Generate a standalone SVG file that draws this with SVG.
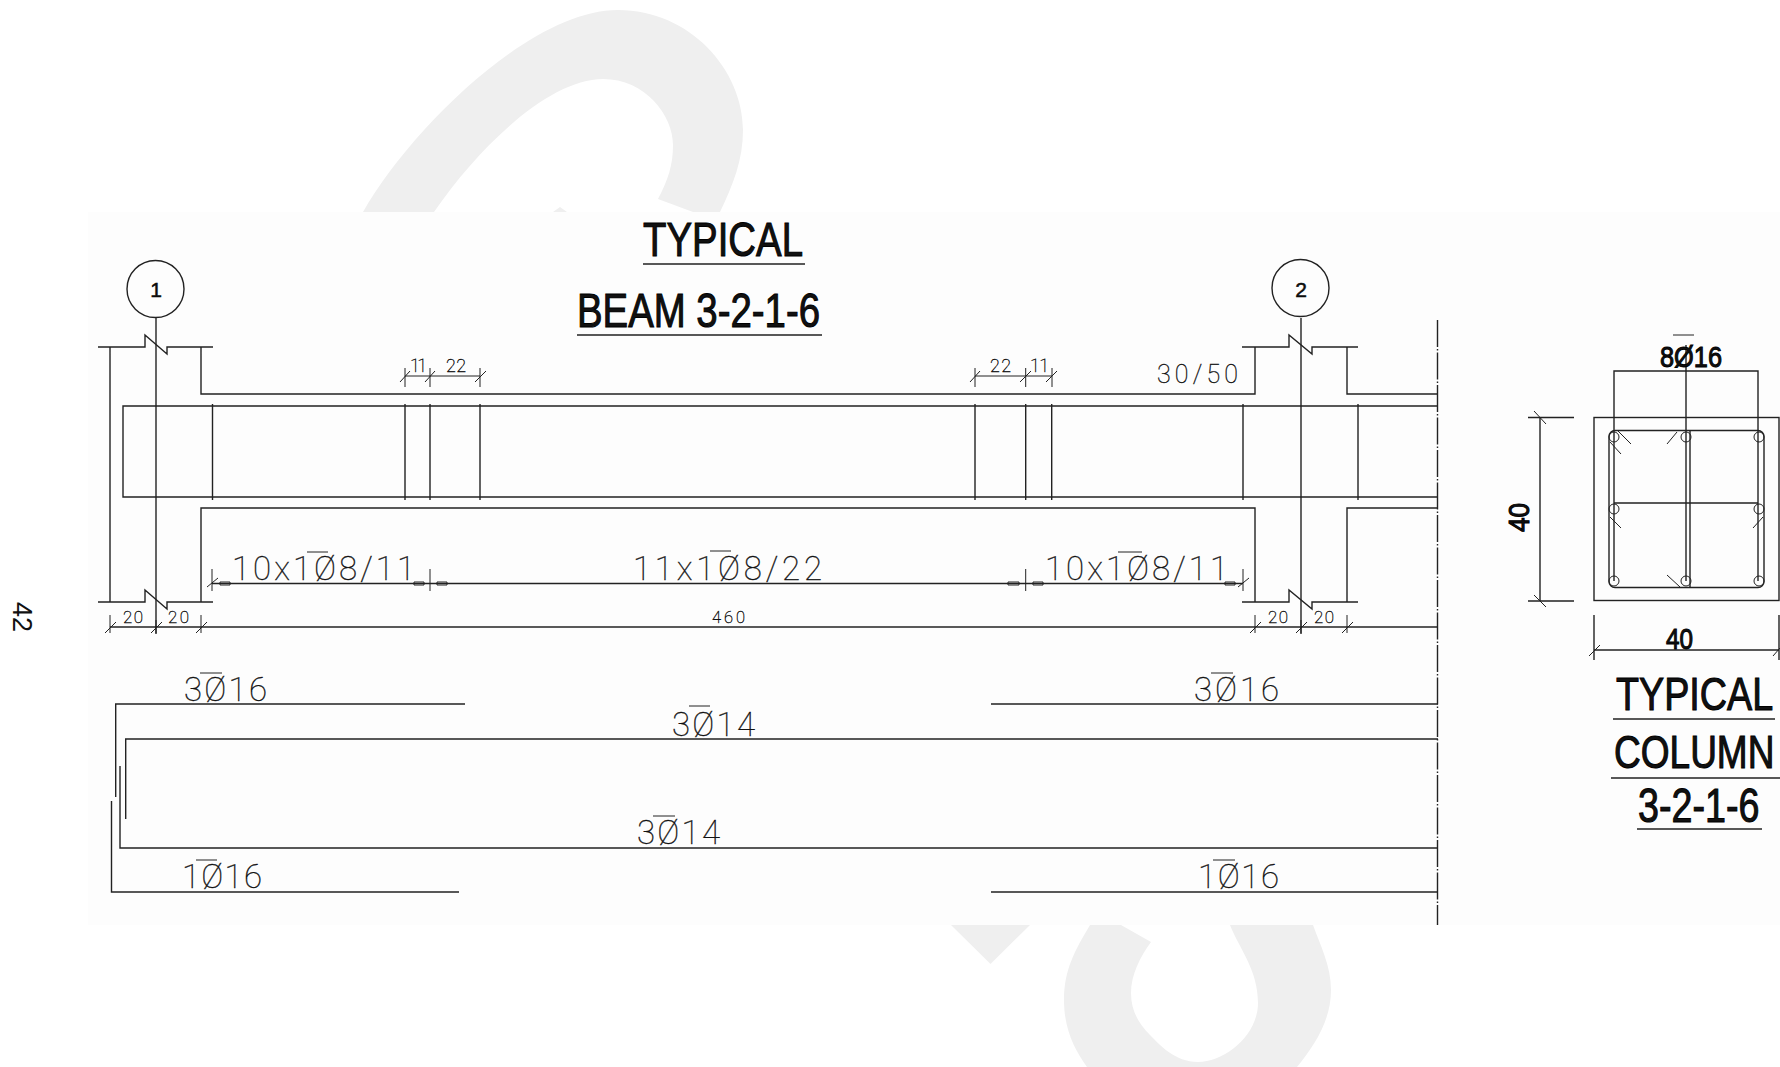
<svg xmlns="http://www.w3.org/2000/svg" width="1780" height="1067" viewBox="0 0 1780 1067">
<style>
text{font-family:"Liberation Sans",Arial,sans-serif;fill:#111}
.thin{font-family:"Roboto","Liberation Sans",sans-serif;font-weight:100;fill:#111;stroke:#111;stroke-width:.35}
.bold{stroke:#000;stroke-width:1}
.num{stroke:#000;stroke-width:.5}
.l{fill:none;stroke:#222;stroke-width:1.4}
.t{fill:none;stroke:#222;stroke-width:1}
.wm{fill:#efefef}
</style>
<rect width="1780" height="1067" fill="#fff"/>
<g id="watermark">
<path class="wm" d="M363 212C410 130 530 10 618 10C690 10 743 70 743 130C743 160 733 185 720 212H693L658 199C668 180 673 165 673 145C673 115 645 79 603 79C550 79 480 145 434 212Z"/>
<path class="wm" d="M553 212L560 207L567 212Z"/>
<path class="wm" d="M951 925H1030L990.500 964Z"/>
<path class="wm" d="M1090 925C1075 950 1064 970 1064 1000C1064 1030 1075 1050 1087 1067H1297C1315 1045 1331 1020 1331 990C1331 965 1320 945 1313 925H1230C1240 950 1258 970 1258 1003C1258 1035 1225 1062 1198 1062C1175 1062 1160 1045 1150 1035C1138 1023 1131 1010 1131 993C1131 975 1140 957 1151 942L1121 925Z"/>
</g>
<rect x="88" y="212" width="1692" height="713" fill="#fdfdfd"/>
<g id="beam-elevation">
<path class="l" d="M98 347H145V335L167 354V347H213M110 347V602M98 602H145V590L167 609V602H213M201 347V394H1255V347M1242 347H1289V335L1312 354V347H1358M1347 347V394H1438"/>
<path class="l" d="M1242 602H1289V590L1312 609V602H1358M201 602V508H1255V602M1347 602V508H1438"/>
<path class="l" d="M1438 406H123V497H1438"/>
<path class="l" d="M212.500 404V500M405 404V500M430 404V500M480 404V500M975 404V500M1025.700 404V500M1051.700 404V500M1243 404V500M1358 404V500"/>
</g>
<g id="axis-1"><circle class="l" cx="155.500" cy="289" r="28.500"/><path class="l" d="M156 318V634"/><text class="num" x="156" y="297" font-size="21" text-anchor="middle">1</text></g>
<g id="axis-2"><circle class="l" cx="1300.500" cy="288" r="28.500"/><path class="l" d="M1301 318V634"/><text class="num" x="1301" y="297" font-size="21" text-anchor="middle">2</text></g>
<g id="centerline"><path class="l" d="M1437.500 320V925" stroke-dasharray="27 2 1.500 2"/></g>
<g id="dimensions">
<path class="t" d="M405 376H480M405 368V387M430 368V387M480 368V387M400 382L410 371M425 382L435 371M475 382L486 371"/>
<path class="t" d="M975 376H1052M975 368V387M1025.700 368V387M1052 368V387M970 382L980 371M1020 382L1031 371M1046 382L1057 371"/>
<path class="l" d="M212 583.500H1243"/>
<path class="t" d="M212 569V591M430 569V591M1025.700 569V591M1243 569V591M207 587L218 578M1238 587L1249 578"/>
<path class="t" d="M220 582h10v3h-10zM414 582h10v3h-10zM437 582h10v3h-10zM1008 582h11v3h-11zM1033 582h10v3h-10zM1225 582h10v3h-10z"/>
<path class="l" d="M110 627H1438"/>
<path class="t" d="M110 615V633M156 620V633M201 615V633M105 633L116 622M151 633L162 622M196 633L207 622M1255 615V633M1301 620V633M1347 615V633M1250 633L1261 622M1296 633L1307 622M1342 633L1353 622"/>
<text class="thin" x="410" y="372" font-size="18" textLength="17" lengthAdjust="spacing">11</text>
<text class="thin" x="446" y="372" font-size="18" textLength="20">22</text>
<text class="thin" x="990" y="372" font-size="18" textLength="21">22</text>
<text class="thin" x="1030" y="372" font-size="18" textLength="19">11</text>
<text class="thin" x="1157" y="383" font-size="25" textLength="81">30/50</text>
<text class="thin" x="123" y="623" font-size="17" textLength="20">20</text>
<text class="thin" x="168" y="623" font-size="17" textLength="21">20</text>
<text class="thin" x="1268" y="623" font-size="17" textLength="20">20</text>
<text class="thin" x="1314" y="623" font-size="17" textLength="20">20</text>
<text class="thin" x="712" y="623" font-size="16.500" textLength="33">460</text>
<text class="thin" x="232" y="580" font-size="33" textLength="183">10x1Ø8/11</text>
<text class="thin" x="633" y="580" font-size="33" textLength="189">11x1Ø8/22</text>
<text class="thin" x="1045" y="580" font-size="33" textLength="183">10x1Ø8/11</text>
<path class="t" d="M307 552H328M710 551H731M1118 552H1142"/>
</g>
<g id="rebar">
<path class="l" d="M115.700 797V704H465M991 704H1438M125.700 819V739H1438M120 766V848H1438M111.500 801V892H459M991 892H1438"/>
<text class="thin" x="184" y="701" font-size="33" textLength="83">3Ø16</text>
<text class="thin" x="1194" y="701" font-size="33" textLength="85">3Ø16</text>
<text class="thin" x="672" y="736" font-size="33" textLength="83">3Ø14</text>
<text class="thin" x="637" y="844" font-size="33" textLength="83">3Ø14</text>
<text class="thin" x="182" y="888" font-size="33" textLength="80">1Ø16</text>
<text class="thin" x="1198" y="888" font-size="33" textLength="81">1Ø16</text>
<path class="t" d="M200 673H222M1211 673H1233M689 706H710M653 816H675M196 860H217M1213 860H1235"/>
</g>
<g id="beam-title">
<text class="bold" x="643" y="256" font-size="49" textLength="160" lengthAdjust="spacingAndGlyphs">TYPICAL</text>
<text class="bold" x="577" y="327" font-size="49" textLength="243" lengthAdjust="spacingAndGlyphs">BEAM 3-2-1-6</text>
<path class="l" d="M643 264H805M577 335H822"/>
</g>
<g id="column-section">
<rect class="l" x="1594" y="417.500" width="185" height="183"/>
<rect class="l" x="1609" y="430.500" width="155" height="157" rx="6"/>
<path class="l" d="M1614 581V371H1758V581M1686 345V581M1690 431V587M1614 503H1758"/>
<g class="t"><circle cx="1614" cy="437" r="5"/><circle cx="1686" cy="437" r="5"/><circle cx="1759" cy="437" r="5"/><circle cx="1614" cy="509" r="5"/><circle cx="1759" cy="509" r="5"/><circle cx="1614" cy="581" r="5"/><circle cx="1686" cy="581" r="5"/><circle cx="1759" cy="581" r="5"/></g>
<path class="t" d="M1618 431L1631 444M1610 442L1621 454M1667 444L1677 432M1610 517L1621 528M1753 528L1763 517M1667 575L1680 587"/>
<path class="l" d="M1540 417.500V601M1528 417.500H1574M1528 601H1574M1594 615V660M1779 615V660M1594 650H1779"/>
<path class="t" d="M1534 411L1546 424M1534 595L1546 607M1589 656L1600 645M1773 656L1780 648"/>
<text class="bold" x="1660" y="367" font-size="30" textLength="62" lengthAdjust="spacingAndGlyphs">8Ø16</text>
<path class="t" d="M1673 335H1694"/>
<text class="bold" x="1666" y="649" font-size="30" textLength="27" lengthAdjust="spacingAndGlyphs">40</text>
<text class="bold" transform="translate(1529 532) rotate(-90)" font-size="30" textLength="29" lengthAdjust="spacingAndGlyphs">40</text>
</g>
<g id="column-title">
<text class="bold" transform="translate(1616 710) scale(.82 1)" font-size="46">TYPICAL</text>
<text class="bold" transform="translate(1614 768) scale(.805 1)" font-size="46">COLUMN</text>
<text class="bold" transform="translate(1638 822) scale(.785 1)" font-size="48">3-2-1-6</text>
<path class="l" d="M1613 719H1775M1611 778H1780M1637 829H1762"/>
</g>
<text id="page-number" transform="translate(13 602) rotate(90)" font-size="28" textLength="30" lengthAdjust="spacingAndGlyphs">42</text>
</svg>
